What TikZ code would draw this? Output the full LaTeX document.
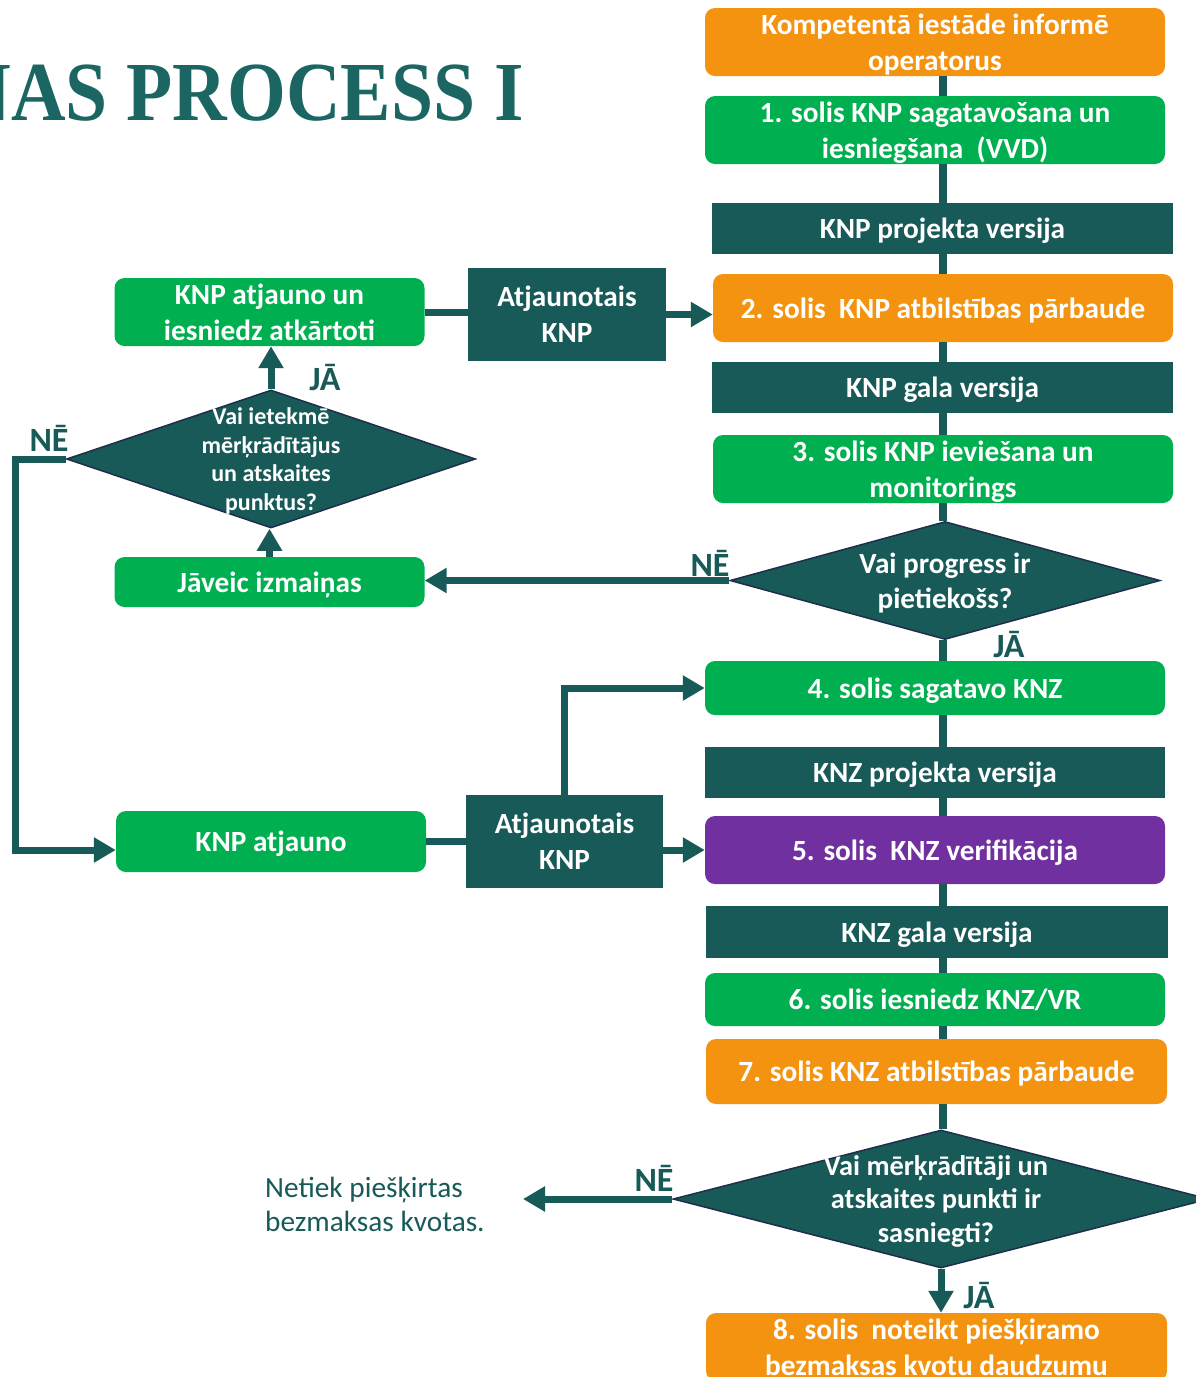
\documentclass[tikz,border=0pt]{standalone}
\usepackage{fontspec}
\setmainfont{Carlito}
\newfontfamily\titlefont[FakeStretch=0.9]{Liberation Serif}
\usetikzlibrary{arrows.meta,shapes.geometric,calc}
\definecolor{korange}{HTML}{F4930F}
\definecolor{kgreen}{HTML}{00B050}
\definecolor{kteal}{HTML}{185A57}
\definecolor{kpurple}{HTML}{7030A0}
\definecolor{ktitle}{HTML}{1B6663}
\definecolor{knavy}{HTML}{1F2E4A}
\begin{document}
\begin{tikzpicture}[x=1pt,y=-1pt,
  boxtxt/.style={text=white, align=center, inner sep=0pt, text depth=0pt, font=\bfseries\fontsize{29.3}{36}\selectfont},
  obox/.style={boxtxt, fill=korange, rounded corners=10pt},
  gbox/.style={boxtxt, fill=kgreen, rounded corners=10pt},
  pbox/.style={boxtxt, fill=kpurple, rounded corners=10pt},
  tbox/.style={boxtxt, fill=kteal},
  dia/.style={diamond, fill=kteal, draw=knavy, line width=1.5pt, inner sep=0pt},
  dtxt/.style={boxtxt},
  lbl/.style={text=kteal, inner sep=0pt, font=\bfseries\fontsize{34}{40}\selectfont},
  spine/.style={draw=kteal, line width=7.5pt},
  conn/.style={draw=kteal, line width=7pt, line join=miter},
  arr/.style={conn, -{Triangle[length=22pt,width=24pt]}},
]
\useasboundingbox (0,0) rectangle (1196,1377);
\fill[white] (0,0) rectangle (1196,1377);
\begin{scope}
\clip (0,0) rectangle (1196,1377);

% title
\node[anchor=base east, inner sep=0pt, text=ktitle, font=\titlefont\bfseries\fontsize{84}{90}\selectfont] (title) at (524,120) {NAS PROCESS I};

\coordinate (sp) at (943,0);

% right column
\node[obox, minimum width=460pt, minimum height=68pt] (top) at (935,42) {Kompetentā iestāde informē\\operatorus};
\node[gbox, minimum width=460pt, minimum height=68pt] (s1) at (935,130) {1. solis KNP sagatavošana un\\iesniegšana\ \ (VVD)};
\node[tbox, minimum width=461pt, minimum height=51pt] (kpv) at (942.5,228.5) {KNP projekta versija};
\node[obox, minimum width=460pt, minimum height=68pt] (s2) at (943,308) {2. solis\ \ KNP atbilstības pārbaude};
\node[tbox, minimum width=461pt, minimum height=51pt] (kgv) at (942.5,387.5) {KNP gala versija};
\node[gbox, minimum width=460pt, minimum height=68pt] (s3) at (943,469) {3. solis KNP ieviešana un\\monitorings};
\node[dia, minimum width=430pt, minimum height=118pt] (d1) at (945,580.5) {};
\node[dtxt, font=\bfseries\fontsize{29.2}{35}\selectfont] (d1t) at (d1.center) {Vai progress ir\\pietiekošs?};
\node[gbox, minimum width=460pt, minimum height=54pt] (s4) at (935,688) {4. solis sagatavo KNZ};
\node[tbox, minimum width=460pt, minimum height=51pt] (kzp) at (935,772.5) {KNZ projekta versija};
\node[pbox, minimum width=460pt, minimum height=68pt] (s5) at (935,850) {5. solis\ \ KNZ verifikācija};
\node[tbox, minimum width=462pt, minimum height=52pt] (kzg) at (937,932) {KNZ gala versija};
\node[gbox, minimum width=460pt, minimum height=53pt] (s6) at (935,999.5) {6. solis iesniedz KNZ/VR};
\node[obox, minimum width=461pt, minimum height=65pt] (s7) at (936.5,1071.5) {7. solis KNZ atbilstības pārbaude};
\node[dia, minimum width=536pt, minimum height=138pt] (d2) at (941,1199) {};
\node[dtxt, font=\bfseries\fontsize{28.4}{33.5}\selectfont] (d2t) at ([xshift=-5pt]d2.center) {Vai mērķrādītāji un\\atskaites punkti ir\\sasniegti?};
\node[obox, minimum width=461pt, minimum height=68pt] (s8) at (936.5,1347) {8. solis\ \ noteikt piešķiramo\\bezmaksas kvotu daudzumu};

% left side
\node[gbox, minimum width=310pt, minimum height=68pt] (ka) at (269.5,312) {KNP atjauno un\\iesniedz atkārtoti};
\node[tbox, minimum width=198pt, minimum height=93pt] (at1) at (567,314.5) {Atjaunotais\\KNP};
\node[dia, minimum width=409pt, minimum height=138pt] (d3) at (271,459) {};
\node[dtxt, font=\bfseries\fontsize{24}{28.7}\selectfont] (d3t) at (d3.center) {Vai ietekmē\\mērķrādītājus\\un atskaites\\punktus?};
\node[gbox, minimum width=310pt, minimum height=50pt] (jv) at (269.5,582) {Jāveic izmaiņas};
\node[gbox, minimum width=310pt, minimum height=61pt] (kat) at (271,841.5) {KNP atjauno};
\node[tbox, minimum width=197pt, minimum height=93pt] (at2) at (564.5,841.5) {Atjaunotais\\KNP};
\node[anchor=west, align=left, inner sep=0pt, text=kteal, font=\fontsize{29.3}{34}\selectfont] (nt) at (265,1204) {Netiek piešķirtas\\bezmaksas kvotas.};

% labels
\node[lbl] (lja1) at (325,378) {JĀ};
\node[lbl] (lne1) at (49,438) {NĒ};
\node[lbl] (lne2) at (710,563) {NĒ};
\node[lbl] (lja2) at (1009,644) {JĀ};
\node[lbl] (lne3) at (654,1178) {NĒ};
\node[lbl] (lja3) at (979,1295) {JĀ};

% spine
\foreach \a/\b in {top/s1, s1/kpv, kpv/s2, s2/kgv, kgv/s3, s3/d1, d1/s4, s4/kzp, kzp/s5, s5/kzg, kzg/s6, s6/s7, s7/d2}
  \draw[spine] (\a.south -| sp) -- (\b.north -| sp);
\draw[arr] (d2.south) -- (d2.south |- s8.north);

% left connectors
\draw[conn] (ka.east) -- (ka.east -| at1.west);
\draw[arr] (at1.east) -- (at1.east -| s2.west);
\draw[arr] (d3.north) -- (d3.north |- ka.south);
\draw[arr] (jv.north) -- (jv.north |- d3.south);
\draw[arr] (d1.west) -- (d1.west -| jv.east);
\coordinate (lp1) at (15,459);
\coordinate (lp2) at (15,850);
\draw[arr] (d3.west) -- (lp1) -- (lp2) -- (lp2 -| kat.west);
\draw[conn] (kat.east) -- (kat.east -| at2.west);
\draw[arr] (s5.west -| at2.east) -- (s5.west);
\draw[arr] (at2.north) |- (s4.west);
\coordinate (ntarr) at (523,1199);
\draw[arr] (d2.west) -- (ntarr);
\end{scope}
\end{tikzpicture}
\end{document}
